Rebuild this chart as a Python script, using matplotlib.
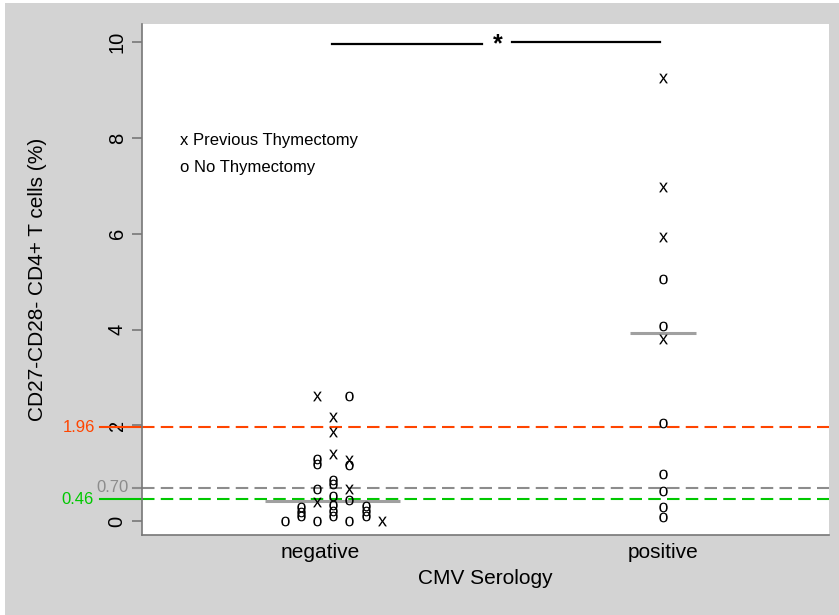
import matplotlib.pyplot as plt
import matplotlib.transforms as mtransforms
from matplotlib.patches import Rectangle

plt.rcParams['font.family'] = ['Liberation Sans', 'DejaVu Sans']
plt.rcParams['mathtext.fontset'] = 'custom'
plt.rcParams['mathtext.rm'] = 'Liberation Sans'

groups = ['negative', 'positive']

# CMV negative, jittered positions (x) and values (y)
neg_thym_x = [0.991, 0.991, 1.038, 1.038, 1.038, 1.085, 1.085, 1.181]
neg_thym_y = [2.61, 0.40, 2.17, 1.86, 1.41, 1.28, 0.68, 0.0]
neg_none_x = [0.898, 0.945, 0.945, 0.945, 0.991, 0.991, 0.991, 0.991,
              1.038, 1.038, 1.038, 1.038, 1.038, 1.038,
              1.085, 1.085, 1.085, 1.085, 1.134, 1.134, 1.134]
neg_none_y = [0.0, 0.30, 0.20, 0.10, 1.29, 1.19, 0.67, 0.0,
              0.86, 0.77, 0.52, 0.33, 0.22, 0.10,
              2.61, 1.18, 0.44, 0.0, 0.32, 0.22, 0.10]

# CMV positive
pos_thym_y = [9.26, 6.97, 5.94, 3.81]
pos_none_y = [5.05, 4.08, 2.05, 0.98, 0.63, 0.30, 0.08]

medians = [0.42, 3.92]
median_centers = [1.036, 2.0]
median_half = [0.197, 0.096]

cutoffs = [1.96, 0.70, 0.46]
cutoff_labels = ['1.96', '0.70', '0.46']
cutoff_colors = ['#ff4500', '#8c8c8c', '#00c800']

fig = plt.figure(figsize=(8.39, 6.15), dpi=100, facecolor='white')
fig.patches.append(Rectangle((5 / 839, 0), 1, 1 - 3 / 615, transform=fig.transFigure,
                             facecolor='#d3d3d3', edgecolor='none', zorder=-1))
ax = fig.add_axes([142 / 839, 1 - 535 / 615, 687 / 839, 511 / 615])
ax.set_facecolor('white')

ax.set_xlim(0.481, 2.484)
ax.set_ylim(-0.29, 10.38)

for s in ['top', 'right']:
    ax.spines[s].set_visible(False)
for s in ['left', 'bottom']:
    ax.spines[s].set_color('#777777')
    ax.spines[s].set_linewidth(1.2)

ax.set_xticks([1, 2])
ax.set_xticklabels(groups, fontsize=15)
ax.tick_params(axis='x', length=0, pad=6)
ax.set_yticks([0, 2, 4, 6, 8, 10])
ax.set_yticklabels(['0', '2', '4', '6', '8', '10'], rotation=90, va='center', fontsize=14.5)
ax.tick_params(axis='y', length=7, width=1.2, color='#777777', pad=4)

ax.set_xlabel('CMV Serology', fontsize=15, labelpad=5)
ax.set_ylabel('CD27-CD28- CD4+ T cells (%)', fontsize=15)
ax.yaxis.set_label_coords(-0.138, 0.5)

# cut-off lines
trans = mtransforms.blended_transform_factory(ax.transAxes, ax.transData)
margin_start = [-0.061, -0.013, -0.061]
label_x = [-0.068, -0.020, -0.070]
for val, lab, col, ms, lx in zip(cutoffs, cutoff_labels, cutoff_colors, margin_start, label_x):
    ax.axhline(val, color=col, lw=1.5, dashes=(6, 3), zorder=1)
    ax.plot([ms, 0], [val, val], transform=trans, color=col, lw=1.5, clip_on=False)
    ax.text(lx, val, lab, transform=trans, color=col, fontsize=12,
            ha='right', va='center', clip_on=False)

# medians
for m, c, h in zip(medians, median_centers, median_half):
    ax.plot([c - h, c + h], [m, m], color='#a0a0a0', lw=2.2, solid_capstyle='butt', zorder=2)

# points
mk = dict(linestyle='none', color='black', markersize=7, markeredgewidth=0, zorder=3)
ax.plot(neg_thym_x, neg_thym_y, marker=r'$\mathrm{x}$', **mk)
ax.plot(neg_none_x, neg_none_y, marker=r'$\mathrm{o}$', **mk)
ax.plot([2] * len(pos_thym_y), pos_thym_y, marker=r'$\mathrm{x}$', **mk)
ax.plot([2] * len(pos_none_y), pos_none_y, marker=r'$\mathrm{o}$', **mk)

# legend as plain text
ax.text(0.592, 7.95, 'x Previous Thymectomy', fontsize=12, ha='left', va='center')
ax.text(0.592, 7.39, 'o No Thymectomy', fontsize=12, ha='left', va='center')

# significance bar
ax.plot([1.035, 1.472], [9.97, 9.97], color='black', lw=1.6)
ax.plot([1.560, 1.991], [10.0, 10.0], color='black', lw=1.6)
ax.text(1.519, 9.95, '*', fontsize=18, fontweight='bold', ha='center', va='center')

fig.savefig('out.png', dpi=100, facecolor=fig.get_facecolor())
